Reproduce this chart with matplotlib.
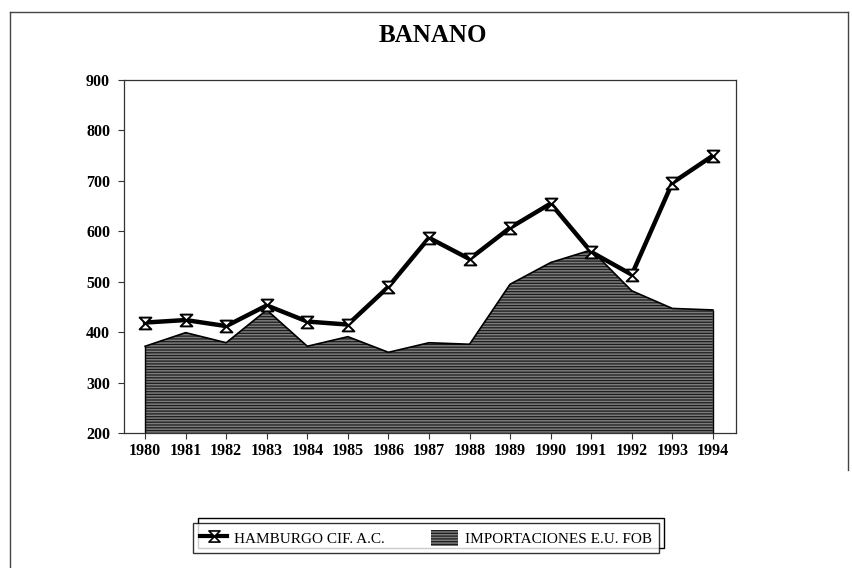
import numpy as np
import matplotlib
matplotlib.use("Agg")
import matplotlib.pyplot as plt
from matplotlib.path import Path
from matplotlib.patches import Rectangle, Patch
from matplotlib.lines import Line2D

plt.rcParams['font.family'] = ['Liberation Serif', 'DejaVu Serif']
plt.rcParams['hatch.linewidth'] = 1.1

# datos
years = [1980, 1981, 1982, 1983, 1984, 1985, 1986, 1987,
         1988, 1989, 1990, 1991, 1992, 1993, 1994]
hamburgo = [419, 424, 412, 453, 421, 415, 490, 587,
            545, 607, 655, 559, 514, 696, 750]
importaciones = [372, 399, 379, 444, 372, 391, 360, 379,
                 376, 495, 538, 563, 482, 447, 444]
yticks = [200, 300, 400, 500, 600, 700, 800, 900]

label_line = "HAMBURGO CIF. A.C."
label_area = "IMPORTACIONES E.U. FOB"

area_face = '#1c1c1c'
area_hatch = '#7c7c7c'

# marcador tipo reloj de arena
hourglass = Path([(-1, 1), (1, 1), (-1, -1), (1, -1), (-1, 1)],
                 [Path.MOVETO, Path.LINETO, Path.LINETO, Path.LINETO, Path.CLOSEPOLY])

fig = plt.figure(figsize=(8.52, 5.68), dpi=100)
W, H = 852, 568
ax = fig.add_axes([124 / W, 1 - 433 / H, (736 - 124) / W, (433 - 80) / H])

# area
ax.fill_between(years, 200, importaciones, facecolor=area_face, edgecolor=area_hatch,
                hatch='------', linewidth=0, zorder=1)
ax.plot(years, importaciones, color='black', lw=1.2, zorder=2)
ax.vlines([years[0], years[-1]], 200, [importaciones[0], importaciones[-1]],
          color='black', lw=1.0, zorder=2)

# linea
ax.plot(years, hamburgo, color='black', lw=3.2, marker=hourglass, markersize=8.5,
        markerfacecolor='white', markeredgecolor='black', markeredgewidth=1.4, zorder=3)

ax.set_xlim(1979.48, 1994.57)
ax.set_ylim(200, 900)
ax.set_xticks(years)
ax.set_xticklabels([str(y) for y in years], fontsize=11.5, fontweight='bold')
ax.set_yticks(yticks)
ax.set_yticklabels([str(v) for v in yticks], fontsize=11.5, fontweight='bold')
ax.tick_params(axis='both', direction='out', length=4, width=0.8, color='#333333')
ax.tick_params(axis='y', pad=6)
ax.tick_params(axis='x', pad=3)
for s in ax.spines.values():
    s.set_linewidth(0.9)
    s.set_color('#333333')

fig.text(433 / W, 1 - 36 / H, "BANANO", ha='center', va='center',
         fontsize=18, fontweight='bold')

# leyenda
handles = [Line2D([0], [0], color='black', lw=3, marker=hourglass, markersize=8,
                  markerfacecolor='white', markeredgecolor='black', markeredgewidth=1.2),
           Patch(facecolor=area_face, edgecolor=area_hatch, hatch='------', linewidth=0)]
leg = fig.legend(handles, [label_line, label_area], loc='center', ncol=2,
                 bbox_to_anchor=(426 / W, 1 - 538 / H), fontsize=11, frameon=True,
                 fancybox=False, edgecolor='black', handlelength=1.8, handleheight=1.3,
                 columnspacing=3.0, borderpad=0.45, handletextpad=0.45)
leg.get_frame().set_linewidth(1.0)

# caja 3D de la leyenda
fig.canvas.draw()
bb = leg.get_window_extent()
x0, y0, x1, y1 = bb.x0 / W, bb.y0 / H, bb.x1 / W, bb.y1 / H
dx, dy = 5 / W, 5 / H
fig.add_artist(Rectangle((x0 + dx, y0 + dy), x1 - x0, y1 - y0, transform=fig.transFigure,
                         facecolor='white', edgecolor='black', lw=1.0, zorder=-1))

# marco exterior
fig.add_artist(Line2D([10 / W, 10 / W], [1 - 12 / H, 0], transform=fig.transFigure,
                      color='#444444', lw=1.0))
fig.add_artist(Line2D([10 / W, 848 / W], [1 - 12 / H, 1 - 12 / H], transform=fig.transFigure,
                      color='#444444', lw=1.0))
fig.add_artist(Line2D([848 / W, 848 / W], [1 - 12 / H, 1 - 470 / H], transform=fig.transFigure,
                      color='#444444', lw=1.0))

fig.savefig("out.png", dpi=100)
